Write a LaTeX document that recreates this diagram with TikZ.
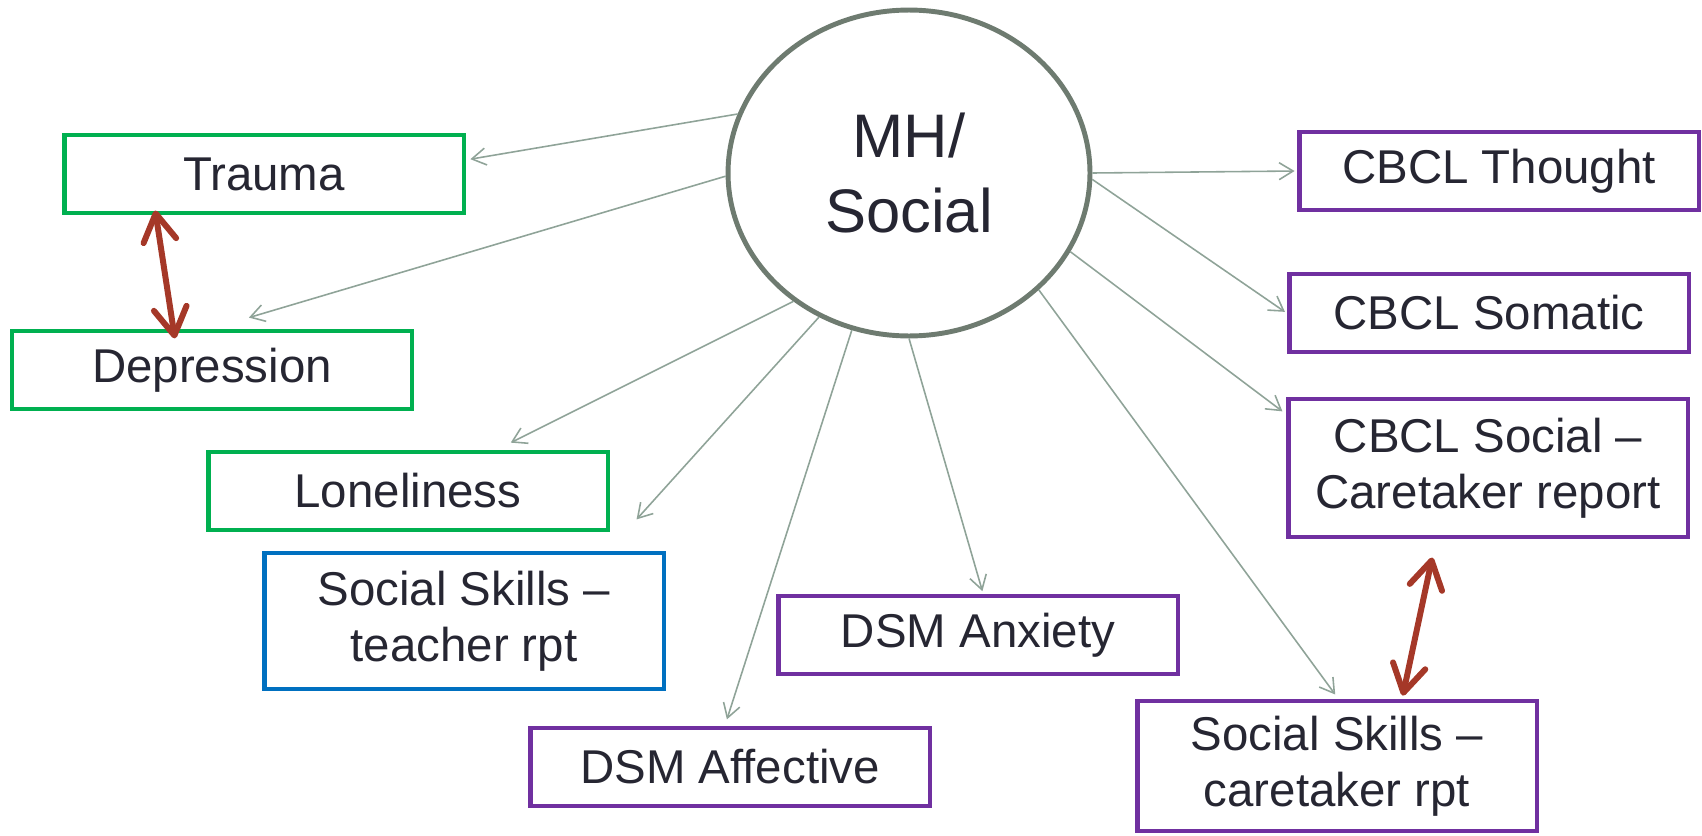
\documentclass[tikz,border=0pt]{standalone}
\usepackage{fontspec}
\setmainfont{Liberation Sans}
\usetikzlibrary{arrows.meta,shapes.geometric}
\definecolor{boxgreen}{RGB}{0,176,80}
\definecolor{boxpurple}{RGB}{112,48,160}
\definecolor{boxblue}{RGB}{0,112,192}
\definecolor{ringgray}{RGB}{110,123,112}
\definecolor{linkgray}{RGB}{143,163,152}
\definecolor{pairred}{RGB}{165,56,40}
\definecolor{textdark}{RGB}{38,38,50}
\begin{document}
\begin{tikzpicture}[x=0.02cm,y=-0.02cm,
    box/.style={draw,line width=2.8pt,minimum width=8cm,minimum height=1.56cm,inner sep=0pt,align=center,text=textdark,font=\fontsize{27}{31.75}\selectfont},
    link/.style={draw=linkgray,line width=0.9pt,-{Straight Barb[length=0.28cm,width=0.34cm]}},
    pair/.style={draw=pairred,line width=3.4pt,line cap=round,{Straight Barb[round,length=0.55cm,width=0.66cm]}-{Straight Barb[round,length=0.55cm,width=0.66cm]}}]
    \useasboundingbox (0,0) rectangle (1702,835);
    % centre
    \node[ellipse,draw=ringgray,line width=2.8pt,minimum width=7.24cm,minimum height=6.52cm,inner sep=0pt,align=center,text=textdark,font=\fontsize{35}{43}\selectfont] (mh) at (909,173) {MH/\\Social};
    % left side
    \node[box,draw=boxgreen] (trauma) at (264,174) {Trauma};
    \node[box,draw=boxgreen] (depression) at (212,370) {Depression};
    \node[box,draw=boxgreen] (loneliness) at (408,491) {Loneliness};
    \node[box,draw=boxblue,minimum height=2.72cm] (teacher) at (464,621) {Social Skills \textendash\\teacher rpt};
    \node[box,draw=boxpurple] (affective) at (730,767) {DSM Affective};
    \node[box,draw=boxpurple] (anxiety) at (978,635) {DSM Anxiety};
    % right side
    \node[box,draw=boxpurple] (thought) at (1499,171) {CBCL Thought};
    \node[box,draw=boxpurple] (somatic) at (1489,313) {CBCL Somatic};
    \node[box,draw=boxpurple,minimum height=2.76cm] (cbclsocial) at (1488,468) {CBCL Social \textendash\\Caretaker report};
    \node[box,draw=boxpurple,minimum height=2.6cm] (caretaker) at (1337,766) {Social Skills \textendash\\caretaker rpt};
    % links
    \draw[link,shorten >=0.08cm] (mh.161) -- (trauma.4);
    \draw[link,shorten >=0.77cm] (mh.181) -- (depression.north);
    \draw[link,shorten >=0.31cm] (mh.228) -- (loneliness.25);
    \draw[link,shorten >=0.84cm] (mh.238) -- (teacher.26);
    \draw[link,shorten >=0.13cm] (mh.250) -- (affective.97);
    \draw[link,shorten >=0.05cm] (mh.270) -- (anxiety.83);
    \draw[link,shorten >=0.04cm] (mh.east) -- (thought.west);
    \draw[link,shorten >=0.04cm] (mh.358) -- (somatic.west);
    \draw[link,shorten >=0.08cm] (mh.334) -- (cbclsocial.165);
    \draw[link,shorten >=0.1cm] (mh.318) -- (caretaker.89);
    % correlated pairs
    \draw[pair,shorten <=-0.1cm,shorten >=-0.2cm] (trauma.201) -- (depression.133);
    \draw[pair,shorten <=0.37cm,shorten >=0.06cm] (cbclsocial.234) -- (caretaker.46);
\end{tikzpicture}
\end{document}
